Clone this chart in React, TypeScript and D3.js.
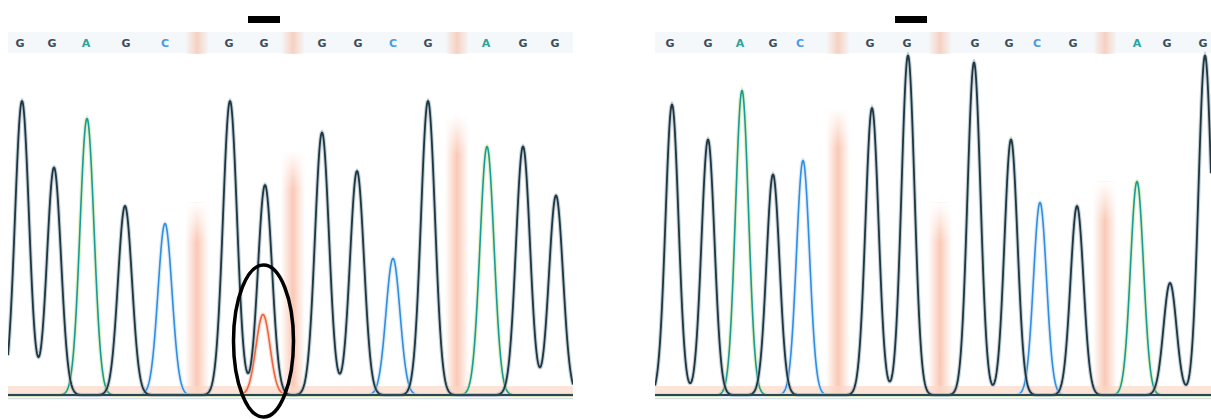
import React, { useEffect, useRef } from 'react';
import * as d3 from 'd3';

// peak positions (scan px), called base and signal height (0-100) for each panel
const leftBases = ['G', 'G', 'A', 'G', 'C', 'G', 'G', 'G', 'G', 'C', 'G', 'A', 'G', 'G'];
const leftPos = [22, 54, 87, 125, 165, 230, 265, 322, 357, 393, 428, 487, 523, 556];
const leftHeights = [84, 65, 79, 54, 49, 84, 60, 75, 64, 39, 84, 71, 71, 57];
const leftLabelPos = [20, 52, 86, 126, 165, 229, 264, 322, 358, 393, 428, 486, 523, 555];
// the minor T peak under the mutated G
const leftMinorPos = [263];
const leftMinorHeights = [23];
const leftBandPos = [197, 293, 457];
const leftBandTop = [55, 70, 80];

const rightBases = ['G', 'G', 'A', 'G', 'C', 'G', 'G', 'G', 'G', 'C', 'G', 'A', 'G', 'G'];
const rightPos = [672, 708, 742, 773, 803, 872, 908, 974, 1011, 1040, 1077, 1137, 1170, 1205];
const rightHeights = [83, 73, 87, 63, 67, 82, 97, 95, 73, 55, 54, 61, 32, 97];
const rightLabelPos = [670, 708, 740, 773, 800, 870, 907, 975, 1009, 1037, 1073, 1137, 1167, 1203];
const rightBandPos = [838, 940, 1105];
const rightBandTop = [82, 55, 61];

const colors: Record<string, string> = {
  G: '#1d3642',
  A: '#179c9a',
  C: '#2f8fe0',
  T: '#f0653f',
};
const labelColors: Record<string, string> = {
  G: '#3b4d58',
  A: '#2aa3a0',
  C: '#4a9be6',
};

const W = 1211;
const H = 419;

const App = () => {
  const ref = useRef<SVGSVGElement>(null);

  useEffect(() => {
    document.body.style.margin = '0';
    const svg = d3.select(ref.current);
    svg.selectAll('*').remove();

    const y = d3.scaleLinear().domain([0, 100]).range([395, 45]);

    const defs = svg.append('defs');
    const band = defs.append('linearGradient').attr('id', 'band').attr('x1', 0).attr('x2', 1).attr('y1', 0).attr('y2', 0);
    band.append('stop').attr('offset', '0%').attr('stop-color', '#f7b196').attr('stop-opacity', 0);
    band.append('stop').attr('offset', '50%').attr('stop-color', '#f7b196').attr('stop-opacity', 0.7);
    band.append('stop').attr('offset', '100%').attr('stop-color', '#f7b196').attr('stop-opacity', 0);
    const fade = defs.append('linearGradient').attr('id', 'fade').attr('x1', 0).attr('x2', 0).attr('y1', 0).attr('y2', 1);
    fade.append('stop').attr('offset', '0%').attr('stop-color', 'white').attr('stop-opacity', 1);
    fade.append('stop').attr('offset', '100%').attr('stop-color', 'white').attr('stop-opacity', 0);

    function drawPanel(
      x0: number, x1: number, sigma: number,
      bases: string[], pos: number[], heights: number[],
      labelPos: number[], bandPos: number[], bandTop: number[],
      minorPos: number[], minorHeights: number[],
    ) {
      const g = svg.append('g');
      const clipId = 'clip' + x0;
      defs.append('clipPath').attr('id', clipId)
        .append('rect').attr('x', x0).attr('y', 0).attr('width', x1 - x0).attr('height', H);
      g.attr('clip-path', 'url(#' + clipId + ')');

      const x = d3.scaleLinear().domain([x0, x1]).range([x0, x1]);

      // label row
      g.append('rect').attr('x', x0).attr('y', 32).attr('width', x1 - x0).attr('height', 21)
        .attr('fill', '#f5f8fa');

      // pale orange bands (T regions)
      bandPos.forEach((p, i) => {
        g.append('rect').attr('x', x(p) - 12).attr('y', 32).attr('width', 24).attr('height', 22)
          .attr('fill', 'url(#band)').attr('opacity', 0.8);
        g.append('rect').attr('x', x(p) - 12).attr('y', y(bandTop[i])).attr('width', 24)
          .attr('height', y(0) - y(bandTop[i])).attr('fill', 'url(#band)');
        g.append('rect').attr('x', x(p) - 12).attr('y', y(bandTop[i])).attr('width', 24)
          .attr('height', 40).attr('fill', 'url(#fade)');
      });

      // bottom strip
      g.append('rect').attr('x', x0).attr('y', 386).attr('width', x1 - x0).attr('height', 8)
        .attr('fill', '#fbd9c8').attr('opacity', 0.7);
      g.append('line').attr('x1', x0).attr('x2', x1).attr('y1', 398.5).attr('y2', 398.5)
        .attr('stroke', '#d6dee3').attr('stroke-width', 1.5);

      const xs = d3.range(x0, x1 + 0.5, 0.5);
      const line = d3.line<[number, number]>().x(d => x(d[0])).y(d => y(d[1]));

      function trace(ps: number[], hs: number[]) {
        const pts: [number, number][] = xs.map(v => {
          let s = 0;
          ps.forEach((p, i) => { s += hs[i] * Math.exp(-((v - p) ** 2) / (2 * sigma * sigma)); });
          return [v, s];
        });
        return pts;
      }

      const order = ['T', 'C', 'A', 'G'];
      order.forEach(b => {
        let ps: number[] = [];
        let hs: number[] = [];
        if (b === 'T') { ps = minorPos; hs = minorHeights; }
        else {
          bases.forEach((bb, i) => { if (bb === b) { ps.push(pos[i]); hs.push(heights[i]); } });
        }
        if (!ps.length) return;
        const pts = trace(ps, hs);
        const halo = b === 'A' ? '#cfe6a0' : b === 'C' ? '#c8def5' : b === 'T' ? '#fbc4b0' : '#9fb0ba';
        g.append('path').attr('d', line(pts)).attr('fill', 'none')
          .attr('stroke', halo).attr('stroke-width', 4).attr('opacity', 0.6);
        g.append('path').attr('d', line(pts)).attr('fill', 'none')
          .attr('stroke', colors[b]).attr('stroke-width', b === 'G' ? 1.8 : 1.6)
          .attr('stroke-linejoin', 'round');
      });

      // dark baseline where the traces overlap
      g.append('line').attr('x1', x0).attr('x2', x1).attr('y1', y(0)).attr('y2', y(0))
        .attr('stroke', '#2a4854').attr('stroke-width', 1.8);

      // base calls
      g.selectAll('text.base').data(bases).enter().append('text')
        .attr('class', 'base')
        .attr('x', (_, i) => x(labelPos[i]))
        .attr('y', 47)
        .attr('text-anchor', 'middle')
        .attr('font-family', 'DejaVu Sans, sans-serif')
        .attr('font-weight', 'bold')
        .attr('font-size', 11)
        .attr('fill', d => labelColors[d])
        .text(d => d);
    }

    drawPanel(8, 573, 7, leftBases, leftPos, leftHeights, leftLabelPos, leftBandPos, leftBandTop, leftMinorPos, leftMinorHeights);
    drawPanel(655, 1211, 6.5, rightBases, rightPos, rightHeights, rightLabelPos, rightBandPos, rightBandTop, [], []);

    // markers above the mutated base
    svg.append('rect').attr('x', 248).attr('y', 16).attr('width', 32).attr('height', 7).attr('fill', '#000');
    svg.append('rect').attr('x', 895).attr('y', 16).attr('width', 32).attr('height', 7).attr('fill', '#000');

    // circle around the double peak
    svg.append('ellipse').attr('cx', 263.5).attr('cy', 341).attr('rx', 30).attr('ry', 76)
      .attr('fill', 'none').attr('stroke', '#000').attr('stroke-width', 3.5);
  }, []);

  return <svg ref={ref} width={W} height={H} style={{ display: 'block', background: '#fff' }} />;
};

export default App;
